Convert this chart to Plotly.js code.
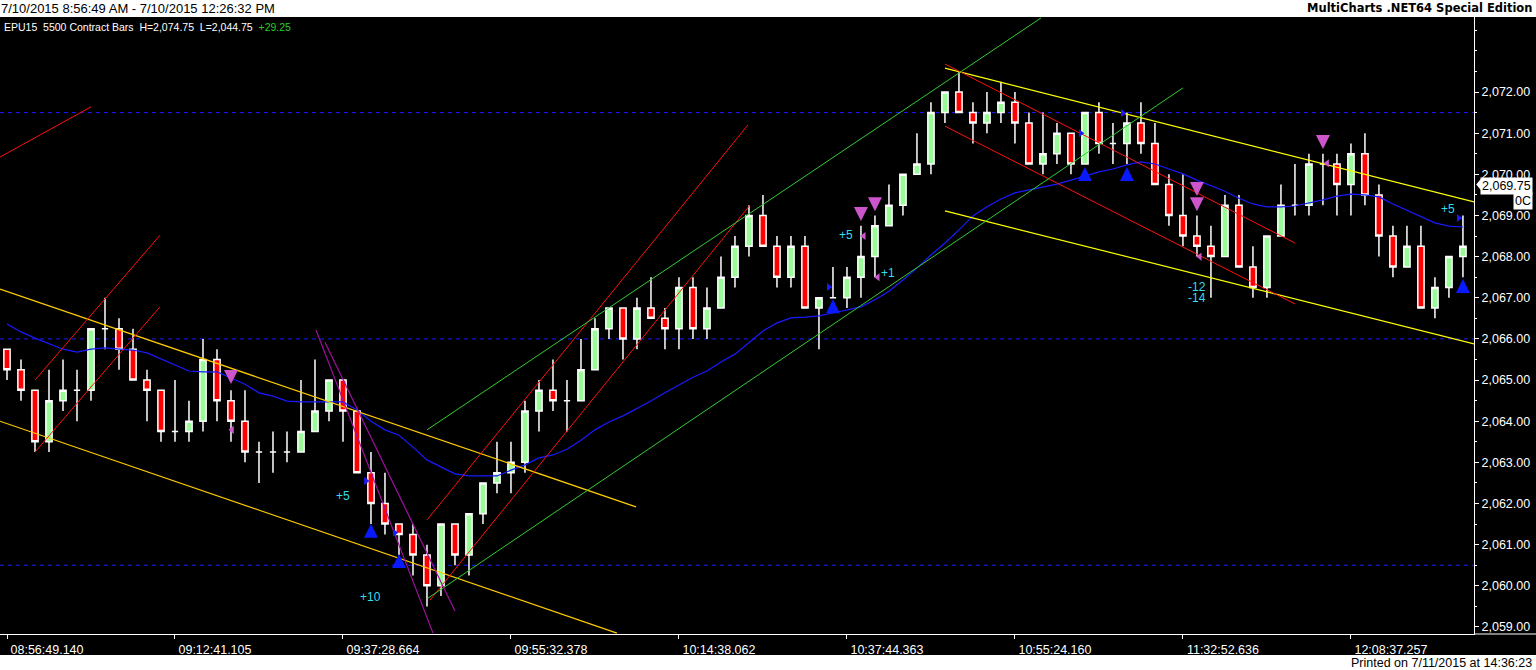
<!DOCTYPE html>
<html><head><meta charset="utf-8">
<script src="https://cdn.plot.ly/plotly-3.0.1.min.js"></script>
<style>html,body{margin:0;padding:0;background:#fff;}#chart{width:1536px;height:670px;}</style>
</head><body><div id="chart"></div>
<script>
// ---- OHLC data (bar index order) ----
const opens = [2065.75,2065.25,2064.75,2063.5,2064.5,2064.75,2064.75,2066.25,2066.25,2065.75,2065.0,2064.75,2063.75,2063.75,2064.0,2065.5,2064.5,2064.0,2063.25,2063.25,2063.25,2063.25,2063.75,2064.25,2065.0,2064.25,2062.75,2062.0,2061.5,2061.25,2060.75,2060.0,2061.5,2060.75,2061.75,2062.5,2062.75,2063.0,2064.25,2064.75,2064.5,2064.5,2065.25,2066.25,2066.75,2066.0,2066.75,2066.5,2066.25,2067.25,2066.25,2066.75,2067.5,2068.25,2069.0,2068.25,2067.5,2068.25,2066.75,2067.0,2067.0,2067.5,2068.0,2068.75,2069.25,2070.0,2070.25,2071.5,2072.0,2071.5,2071.25,2071.5,2071.75,2071.25,2070.25,2070.5,2071.0,2070.25,2071.5,2070.75,2070.75,2071.25,2070.75,2069.75,2069.0,2068.5,2068.25,2068.0,2069.25,2067.75,2067.25,2068.5,2069.25,2069.25,2070.25,2070.25,2069.75,2070.5,2069.5,2068.5,2067.75,2068.25,2066.75,2067.25,2068.0];
const highs = [2065.75,2065.5,2064.75,2065.25,2065.5,2065.25,2066.25,2067.0,2066.5,2066.25,2065.25,2064.75,2065.0,2064.5,2066.0,2065.75,2064.75,2064.75,2063.5,2063.75,2063.75,2065.0,2065.5,2065.0,2065.0,2064.25,2063.25,2062.75,2061.5,2061.5,2061.0,2061.5,2061.5,2061.75,2062.5,2063.5,2063.5,2064.5,2065.0,2065.5,2065.0,2066.0,2066.5,2066.75,2066.75,2067.0,2067.5,2066.75,2067.5,2067.5,2067.25,2068.0,2068.5,2069.25,2069.5,2068.5,2068.5,2068.5,2067.0,2067.75,2067.75,2068.75,2069.0,2069.75,2070.0,2071.0,2071.75,2072.0,2072.5,2071.75,2072.0,2072.25,2072.0,2071.5,2071.5,2071.25,2071.0,2071.5,2071.75,2071.25,2071.5,2071.75,2071.25,2070.0,2070.0,2069.0,2068.75,2069.5,2069.5,2068.25,2068.5,2069.75,2070.25,2070.5,2070.5,2070.5,2070.75,2071.0,2069.75,2068.75,2068.75,2068.75,2067.5,2068.0,2069.0];
const lows = [2065.0,2064.5,2063.25,2063.25,2064.25,2064.0,2064.5,2065.75,2065.25,2065.0,2064.0,2063.5,2063.5,2063.5,2063.75,2064.0,2063.5,2063.0,2062.5,2062.75,2063.0,2063.25,2063.75,2064.0,2063.5,2062.75,2061.5,2061.25,2060.75,2060.25,2059.5,2059.75,2060.5,2060.25,2061.5,2062.25,2062.25,2062.75,2063.75,2064.25,2063.75,2064.5,2065.25,2066.0,2065.5,2065.75,2066.5,2065.75,2065.75,2066.0,2066.0,2066.75,2067.25,2068.0,2068.25,2067.25,2067.25,2066.75,2065.75,2067.0,2066.75,2067.0,2067.5,2068.75,2069.0,2070.0,2070.0,2071.25,2071.5,2070.75,2071.0,2071.25,2070.75,2070.25,2070.0,2070.25,2070.0,2070.25,2070.5,2070.25,2070.25,2070.5,2069.75,2068.75,2068.25,2068.0,2067.0,2068.0,2067.75,2067.0,2067.0,2068.5,2069.0,2069.0,2069.25,2069.0,2069.0,2069.25,2068.0,2067.5,2067.75,2066.75,2066.5,2067.0,2067.5];
const closes = [2065.25,2064.75,2063.5,2064.5,2064.75,2064.75,2066.25,2066.25,2065.75,2065.0,2064.75,2063.75,2063.75,2064.0,2065.5,2064.5,2064.0,2063.25,2063.25,2063.25,2063.25,2063.75,2064.25,2065.0,2064.25,2062.75,2062.0,2061.5,2061.25,2060.75,2060.0,2061.5,2060.75,2061.75,2062.5,2062.75,2063.0,2064.25,2064.75,2064.5,2064.5,2065.25,2066.25,2066.75,2066.0,2066.75,2066.5,2066.25,2067.25,2066.25,2066.75,2067.5,2068.25,2069.0,2068.25,2067.5,2068.25,2066.75,2067.0,2067.0,2067.5,2068.0,2068.75,2069.25,2070.0,2070.25,2071.5,2072.0,2071.5,2071.25,2071.5,2071.75,2071.25,2070.25,2070.5,2071.0,2070.25,2071.5,2070.75,2070.75,2071.25,2070.75,2069.75,2069.0,2068.5,2068.25,2068.0,2069.25,2067.75,2067.25,2068.5,2069.25,2069.25,2070.25,2070.25,2069.75,2070.5,2069.5,2068.5,2067.75,2068.25,2066.75,2067.25,2068.0,2068.25];
// moving average (blue line)
const maVals = [2066.36,2066.17,2066.02,2065.88,2065.75,2065.68,2065.75,2065.78,2065.75,2065.73,2065.66,2065.51,2065.37,2065.22,2065.20,2065.20,2065.05,2064.90,2064.69,2064.61,2064.49,2064.47,2064.47,2064.47,2064.47,2064.27,2064.00,2063.79,2063.66,2063.37,2063.06,2062.89,2062.72,2062.67,2062.67,2062.67,2062.81,2062.94,2063.11,2063.18,2063.32,2063.54,2063.79,2063.98,2064.13,2064.30,2064.49,2064.69,2064.88,2065.07,2065.22,2065.44,2065.63,2065.92,2066.19,2066.39,2066.51,2066.53,2066.56,2066.63,2066.70,2066.78,2066.95,2067.16,2067.43,2067.72,2068.04,2068.33,2068.65,2068.99,2069.21,2069.40,2069.55,2069.62,2069.69,2069.76,2069.86,2069.96,2070.06,2070.13,2070.23,2070.30,2070.25,2070.13,2070.01,2069.86,2069.72,2069.59,2069.42,2069.28,2069.21,2069.21,2069.23,2069.30,2069.38,2069.47,2069.52,2069.50,2069.45,2069.28,2069.13,2068.96,2068.82,2068.74,2068.72];
// axis ticks
const tickBars = [0,12,24,36,48,60,72,84,96];
const tickLabels = ['08:56:49.140','09:12:41.105','09:37:28.664','09:55:32.378','10:14:38.062','10:37:44.363','10:55:24.160','11:32:52.636','12:08:37.257'];
const priceTicks = [2059,2060,2061,2062,2063,2064,2065,2066,2067,2068,2069,2070,2071,2072];
// horizontal dashed levels
const levels = [2071.5, 2066.0, 2060.5];
// trendlines [x0, y0, x1, y1]
const redLines = [[-0.5,2070.42,6.0,2071.64],[2.0,2065.0,10.93,2068.52],[2.0,2063.25,10.93,2066.78],[30.0,2061.6,52.93,2071.2],[30.21,2059.65,53.07,2069.25],[67.0,2072.68,92.0,2068.33],[67.0,2071.17,92.0,2066.85]];
const greenLines = [[30.0,2063.79,73.86,2073.8],[30.07,2059.7,84.0,2072.1]];
const goldLines = [[-0.5,2067.21,44.93,2061.92],[-0.5,2064.0,43.57,2058.85]];
const yellowLines = [[67.0,2072.58,104.79,2069.33],[67.0,2069.11,104.79,2065.88]];
const purpleLines = [[22.07,2066.22,30.43,2058.85],[22.71,2065.92,32.0,2059.39]];
// signals
const upArrowX = [26,28,59,77,80,104];
const upArrowY = [2061.36,2060.63,2066.82,2070.03,2070.03,2067.31];
const downArrowX = [16,61,62,85,85,94];
const downArrowY = [2065.05,2069.01,2069.25,2069.62,2069.25,2070.76];
const rightTriX = [25.64,27.7,58.7,76.7,79.7,103.7];
const rightTriY = [2062.55,2061.29,2067.26,2071.0,2071.49,2068.94];
const leftTriX = [16.07,61.2,62.2,85.2,94.3];
const leftTriY = [2063.79,2068.5,2067.5,2068.0,2070.27];
const sigText = ['+5','+10','+5','+1','-12','-14','+5'];
const sigX = [24.0,26.0,59.9,62.9,85.0,85.0,102.9];
const sigY = [2062.18,2059.73,2068.52,2067.6,2067.26,2067.0,2069.16];
const lastPrice = 2069.75;
const titleText = '7/10/2015 8:56:49 AM - 7/10/2015 12:26:32 PM';
const brandText = 'MultiCharts .NET64 Special Edition';
const printedText = 'Printed on 7/11/2015 at 14:36:23';

const bars = opens.map((_, i) => i);
const F = 'Liberation Sans, Arial, sans-serif';

function segTrace(list, color, width) {
  const x = [], y = [];
  list.forEach(s => { x.push(s[0], s[2], null); y.push(s[1], s[3], null); });
  return {type:'scatter', mode:'lines', x, y, line:{color, width}, hoverinfo:'skip', showlegend:false};
}

const traces = [
  {type:'candlestick', x:bars, open:opens, high:highs, low:lows, close:closes,
   increasing:{fillcolor:'#98fb98', line:{color:'#ffffff', width:1.5}},
   decreasing:{fillcolor:'#ff0000', line:{color:'#ffffff', width:1.5}},
   whiskerwidth:0, hoverinfo:'skip', showlegend:false},
  {type:'scatter', mode:'lines', x:bars, y:maVals, line:{color:'#1a1aff', width:1.2}, hoverinfo:'skip', showlegend:false},
  segTrace(goldLines, '#ffcc00', 1.2),
  segTrace(yellowLines, '#ffff00', 1.2),
  segTrace(redLines, '#ff1010', 1),
  segTrace(greenLines, '#33cc33', 1),
  segTrace(purpleLines, '#a010a0', 1.2),
  {type:'scatter', mode:'markers', x:rightTriX, y:rightTriY, marker:{symbol:'triangle-right', size:7, color:'#1a1aff', line:{width:0}}, hoverinfo:'skip', showlegend:false},
  {type:'scatter', mode:'markers', x:leftTriX, y:leftTriY, marker:{symbol:'triangle-left', size:7, color:'#cc55cc', line:{width:0}}, hoverinfo:'skip', showlegend:false}
];

const shapes = [
  {type:'rect', xref:'paper', yref:'paper', x0:0, x1:1536/1474, y0:-21/617, y1:1, fillcolor:'#000', line:{width:0}, layer:'below'},
  {type:'line', xref:'paper', yref:'paper', x0:1, x1:1536/1474, y0:0, y1:0, line:{color:'#fff', width:1}},
  {type:'path', xref:'paper', yref:'y', path:`M 1.0015 ${lastPrice} L 1.0055 ${lastPrice+0.17} L 1.0055 ${lastPrice-0.17} Z`, fillcolor:'#fff', line:{width:0}}
];
levels.forEach(v => shapes.push({type:'line', xref:'paper', yref:'y', x0:0, x1:1, y0:v, y1:v, line:{color:'#1a1aff', width:1, dash:'4px,4px'}, layer:'below'}));

const annotations = [
  {xref:'paper', yref:'paper', x:0, y:1 + 8.5/617, xanchor:'left', yanchor:'middle', showarrow:false, text:titleText, font:{family:F, size:13, color:'#000'}, xshift:-1},
  {xref:'paper', yref:'paper', x:1536/1474, y:1 + 8.5/617, xanchor:'right', yanchor:'middle', showarrow:false, text:'<b>'+brandText+'</b>', font:{family:'DejaVu Sans, sans-serif', size:11.5, color:'#000'}, xshift:-2},
  {xref:'paper', yref:'paper', x:0, y:1 - 10/617, xanchor:'left', yanchor:'middle', showarrow:false, text:'EPU15\u00a0\u00a05500 Contract Bars\u00a0\u00a0H=2,074.75\u00a0\u00a0L=2,044.75\u00a0\u00a0<span style="color:#22cc22">+29.25</span>', font:{family:F, size:10.5, color:'#fff'}, xshift:2},
  {xref:'paper', yref:'paper', x:1536/1474, y:-28.5/617, xanchor:'right', yanchor:'middle', showarrow:false, text:printedText, font:{family:F, size:12.5, color:'#000'}, xshift:-2},
  {xref:'paper', yref:'y', x:1480/1474, y:lastPrice, yshift:-1, xanchor:'left', yanchor:'middle', showarrow:false, text:'2,069.75', bgcolor:'#fff', borderpad:1, font:{family:F, size:12.5, color:'#000'}},
  {xref:'paper', yref:'y', x:1533/1474, y:lastPrice, yshift:-16, xanchor:'right', yanchor:'middle', showarrow:false, text:'0C', bgcolor:'#fff', borderpad:1, font:{family:F, size:12.5, color:'#000'}}
];
sigText.forEach((t, i) => annotations.push({xref:'x', yref:'y', x:sigX[i], y:sigY[i], showarrow:false, text:t, font:{family:F, size:12, color:'#33ddee'}}));
// thick arrows drawn as annotation arrows (tip at signal, stem behind)
upArrowX.forEach((x, i) => annotations.push({xref:'x', yref:'y', x, y:upArrowY[i], yshift:6, text:'', showarrow:true,
  arrowhead:2, arrowsize:0.8, arrowwidth:3.5, arrowcolor:'#0a1aff', ax:0, ay:13, standoff:0}));
downArrowX.forEach((x, i) => annotations.push({xref:'x', yref:'y', x, y:downArrowY[i], yshift:-6, text:'', showarrow:true,
  arrowhead:2, arrowsize:0.8, arrowwidth:3.5, arrowcolor:'#cc55cc', ax:0, ay:-13, standoff:0}));

const layout = {
  width:1536, height:670,
  margin:{l:0, r:62, t:17, b:36, pad:0},
  paper_bgcolor:'#ffffff', plot_bgcolor:'#000000',
  boxgap:0.36,
  showlegend:false, hovermode:false,
  font:{family:F, color:'#fff'},
  xaxis:{range:[-0.5,104.79], showgrid:false, zeroline:false, showline:true, linecolor:'#fff', linewidth:1,
    ticks:'outside', ticklen:4, tickcolor:'#fff', tickvals:tickBars, ticktext:tickLabels,
    tickfont:{family:F, size:12.5, color:'#fff'}, ticklabelshift:40, rangeslider:{visible:false}, fixedrange:true},
  yaxis:{side:'right', range:[2058.829,2073.823], tickvals:priceTicks, tickformat:',.2f', showgrid:false, zeroline:false,
    showline:true, linecolor:'#fff', linewidth:1, ticks:'outside', ticklen:4, tickcolor:'#fff',
    minor:{dtick:0.5, ticks:'outside', ticklen:2, tickcolor:'#fff'},
    tickfont:{family:F, size:12.5, color:'#fff'}, fixedrange:true},
  shapes, annotations
};

Plotly.newPlot('chart', traces, layout, {staticPlot:true, displayModeBar:false});
</script>
</body></html>
